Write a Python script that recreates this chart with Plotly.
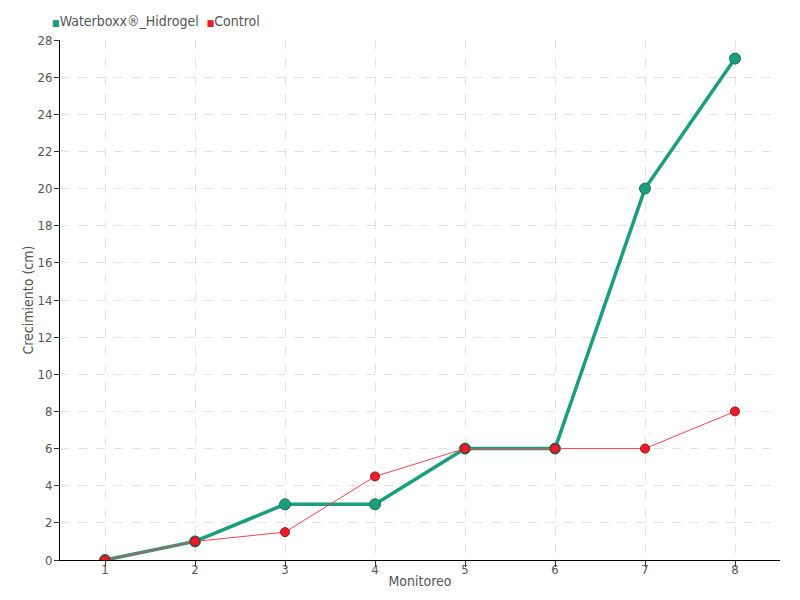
import plotly.graph_objects as go

monitoreo = ["1", "2", "3", "4", "5", "6", "7", "8"]
waterboxx = [0, 1, 3, 3, 6, 6, 20, 27]
control = [0, 1, 1.5, 4.5, 6, 6, 6, 8]
series_names = ["Waterboxx®_Hidrogel", "Control"]

GREEN = "#1b9e7e"
RED = "#ec1c2a"
FONT = "DejaVu Sans Condensed, Liberation Sans Narrow, sans-serif"

fig = go.Figure()

fig.add_trace(
    go.Scatter(
        x=monitoreo,
        y=waterboxx,
        mode="lines+markers",
        name=series_names[0],
        line=dict(color=GREEN, width=3.5),
        marker=dict(size=11, color=GREEN, line=dict(color="#16705a", width=1)),
    )
)
fig.add_trace(
    go.Scatter(
        x=monitoreo,
        y=control,
        mode="lines+markers",
        name=series_names[1],
        line=dict(color="#ff4055", width=1),
        marker=dict(size=9, color=RED, line=dict(color="#a01018", width=1)),
    )
)

# legend drawn as a single text line with coloured square glyphs
sq = "<span style='color:{};font-size:9px'>■</span>"
legend_text = (
    sq.format(GREEN) + series_names[0] + "  " + sq.format(RED) + series_names[1]
)
fig.add_annotation(
    text=legend_text,
    xref="paper",
    yref="paper",
    x=-0.014,
    y=1.0365,
    xanchor="left",
    yanchor="middle",
    showarrow=False,
    font=dict(size=14, color="#555555"),
)
# y axis title placed by hand, closer to the tick labels
fig.add_annotation(
    text="Crecimiento (cm)",
    xref="paper",
    yref="paper",
    x=-0.045,
    y=0.5,
    xanchor="center",
    yanchor="middle",
    textangle=-90,
    showarrow=False,
    font=dict(size=14, color="#555555"),
)

fig.update_layout(
    width=800,
    height=600,
    template="plotly_white",
    plot_bgcolor="white",
    showlegend=False,
    font=dict(family=FONT, size=13, color="#555555"),
    margin=dict(l=52, r=28, t=32, b=48, autoexpand=False),
)

fig.update_xaxes(
    title=dict(text="Monitoreo", standoff=0, font=dict(size=14)),
    type="category",
    range=[-0.5, 7.5],
    showline=True,
    linecolor="black",
    linewidth=1,
    ticks="outside",
    ticklen=6,
    tickcolor="#333333",
    ticklabelstandoff=-9,
    showgrid=True,
    gridcolor="#e2e2e2",
    griddash="dash",
    zeroline=False,
)
fig.update_yaxes(
    range=[0, 28],
    dtick=2,
    showline=True,
    linecolor="black",
    linewidth=1,
    ticks="outside",
    ticklen=5,
    tickcolor="#333333",
    ticklabelstandoff=-1,
    showgrid=True,
    gridcolor="#e2e2e2",
    griddash="dash",
    zeroline=False,
)

fig.write_html("out.html")
